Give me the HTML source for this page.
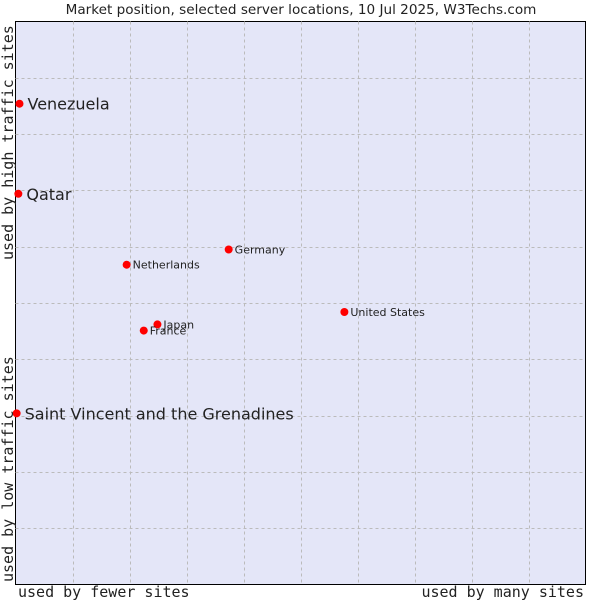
<!DOCTYPE html>
<html><head><meta charset="utf-8"><style>
body{margin:0;background:#fff;}
svg text{font-family:"DejaVu Sans","Liberation Sans",sans-serif;fill:#222;}
</style></head><body>
<svg id="chart" width="600" height="600">
<text x="301" y="14" font-size="13.6" text-anchor="middle">Market position, selected server locations, 10 Jul 2025, W3Techs.com</text>
<rect x="15.5" y="21.5" width="570" height="563" fill="#e4e6f8" stroke="#000"/>
<g id="grid"></g>
<g id="pts"></g>
<text transform="translate(13,582) rotate(-90)" font-size="15" style="font-family:'DejaVu Sans Mono','Liberation Mono',monospace">used by low traffic sites</text>
<text transform="translate(13,260) rotate(-90)" font-size="15" style="font-family:'DejaVu Sans Mono','Liberation Mono',monospace">used by high traffic sites</text>
<text x="18" y="597" font-size="15" style="font-family:'DejaVu Sans Mono','Liberation Mono',monospace">used by fewer sites</text>
<text x="584" y="597" font-size="15" text-anchor="end" style="font-family:'DejaVu Sans Mono','Liberation Mono',monospace">used by many sites</text>
</svg>
<script>
const names=["Venezuela","Qatar","Netherlands","Germany","United States","Japan","France","Saint Vincent and the Grenadines"];
const xVals=[0.7,0.5,19.5,37.4,57.7,24.9,22.5,0.2];
const yVals=[85.4,69.4,56.8,59.5,48.4,46.2,45.1,30.4];
const bigLabel=[true,true,false,false,false,false,false,true];
const NS="http://www.w3.org/2000/svg";
const L=15.5,T=21.5,W=570,H=563;
const sx=v=>L+v/100*W, sy=v=>T+H-v/100*H;
const grid=document.getElementById('grid');
for(let i=1;i<10;i++){
  const x=Math.round(L+i*57)+0.5;
  const l=document.createElementNS(NS,'line');
  l.setAttribute('x1',x);l.setAttribute('x2',x);l.setAttribute('y1',T);l.setAttribute('y2',T+H);
  l.setAttribute('stroke','#bbb');l.setAttribute('stroke-dasharray','3,3');
  
  
  grid.appendChild(l);
  const y=Math.round(T+i*H/10)+0.5;
  const h=document.createElementNS(NS,'line');
  h.setAttribute('x1',L);h.setAttribute('x2',L+W);h.setAttribute('y1',y);h.setAttribute('y2',y);
  h.setAttribute('stroke','#bbb');h.setAttribute('stroke-dasharray','3,3');
  
  
  grid.appendChild(h);
}
const pts=document.getElementById('pts');
names.forEach((n,i)=>{
  const x=sx(xVals[i]),y=sy(yVals[i]);
  const c=document.createElementNS(NS,'circle');
  c.setAttribute('cx',x);c.setAttribute('cy',y);c.setAttribute('r',4);c.setAttribute('fill','#f00');
  
  
  pts.appendChild(c);
  const t=document.createElementNS(NS,'text');
  t.setAttribute('x',x+(bigLabel[i]?8:6));t.setAttribute('y',y+(bigLabel[i]?6:4));
  t.setAttribute('font-size',bigLabel[i]?16:11);
  t.textContent=n;
  
  
  pts.appendChild(t);
});
</script>
</body></html>
